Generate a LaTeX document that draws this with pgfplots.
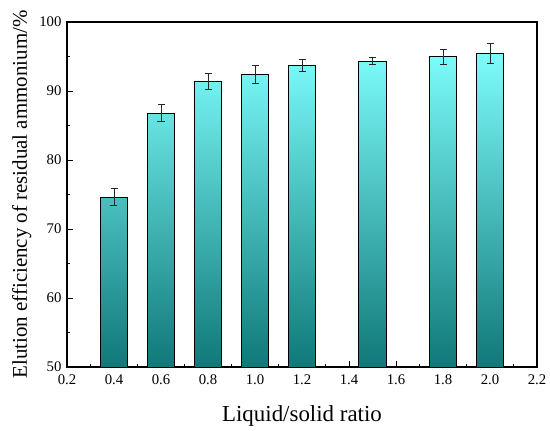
\documentclass[border=0pt]{standalone}
\usepackage{pgfplots}
\pgfplotsset{compat=1.18}
\usepackage{fontspec}
\setmainfont{Liberation Serif}
\definecolor{bartop}{RGB}{125,252,252}
\definecolor{barmid}{RGB}{82,200,200}
\definecolor{barbot}{RGB}{16,120,120}
\begin{document}
\begin{tikzpicture}
\begin{axis}[
  scale only axis,
  width=470bp, height=345bp,
  xmin=0.2, xmax=2.2,
  ymin=0, ymax=50,
  xtick={0.2,0.4,...,2.21},
  xticklabels={0.2,0.4,0.6,0.8,1.0,1.2,1.4,1.6,1.8,2.0,2.2},
  ytick={0,10,20,30,40,50},
  yticklabels={50,60,70,80,90,100},
  minor x tick num=1,
  minor y tick num=1,
  tick align=inside,
  xtick pos=bottom, ytick pos=left,
  major tick length=6bp,
  minor tick length=3.5bp,
  every tick/.style={line width=0.9pt, black},
  axis line style={line width=1.2pt},
  tick label style={font=\fontsize{14.8}{15}\selectfont},
  /pgf/number format/assume math mode=true,
  xlabel={Liquid/solid ratio},
  ylabel={Elution efficiency of residual ammonium/\%},
  xlabel style={font=\fontsize{23}{24}\selectfont, at={(axis description cs:0.5,0)}, anchor=north, yshift=-35bp},
  ylabel style={font=\fontsize{21}{22}\selectfont, at={(axis description cs:0,0.5)}, anchor=south, yshift=32bp},
  xticklabel style={yshift=-4bp},
  yticklabel style={xshift=-2bp},
  clip=false,
]
\addplot[ybar, bar width=0.116, bar shift=0pt,
  draw=black, line width=1pt,
  top color=bartop, middle color=barmid, bottom color=barbot,
  y filter/.expression={y-50},
  error bars/.cd, y dir=both, y explicit,
  error bar style={line width=0.8pt, black!85},
  error mark options={line width=0.8pt, black!85, mark size=3.5bp, rotate=90},
] coordinates {
  (0.4,74.6) +- (0,1.25)
  (0.6,86.8) +- (0,1.2)
  (0.8,91.4) +- (0,1.1)
  (1.0,92.35) +- (0,1.3)
  (1.2,93.7) +- (0,0.85)
  (1.5,94.3) +- (0,0.5)
  (1.8,94.95) +- (0,1.1)
  (2.0,95.45) +- (0,1.4)
};
\coordinate (sw) at (rel axis cs:0,0);
\coordinate (ne) at (rel axis cs:1,1);
\end{axis}
\pgfresetboundingbox
\path ([shift={(-67bp,-64bp)}]sw) rectangle ([shift={(13bp,22bp)}]ne);
\end{tikzpicture}
\end{document}
